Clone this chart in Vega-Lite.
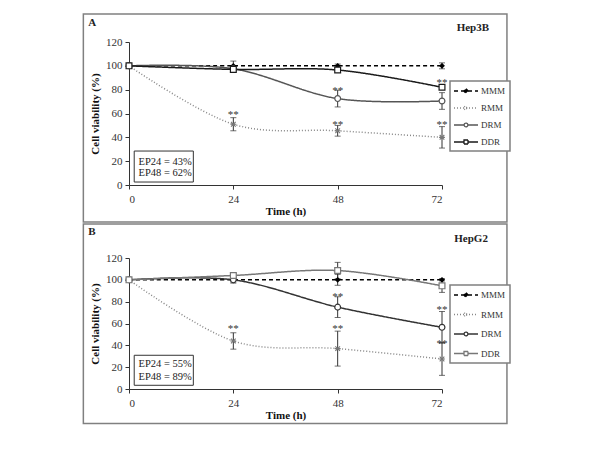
{
  "$schema": "https://vega.github.io/schema/vega-lite/v6.json",
  "background": "white",
  "padding": {"left": 82, "top": 13, "right": 4, "bottom": 4},
  "spacing": 0,
  "datasets": {
    "pts": [
      {"p":"A","s":"MMM","t":0,"v":100,"e":0},
      {"p":"A","s":"MMM","t":24,"v":100,"e":4},
      {"p":"A","s":"MMM","t":48,"v":100,"e":1.5},
      {"p":"A","s":"MMM","t":72,"v":100,"e":2.5},
      {"p":"A","s":"RMM","t":0,"v":100,"e":0},
      {"p":"A","s":"RMM","t":24,"v":51,"e":5.5},
      {"p":"A","s":"RMM","t":48,"v":45.5,"e":4.5},
      {"p":"A","s":"RMM","t":72,"v":40,"e":9},
      {"p":"A","s":"DRM","t":0,"v":100,"e":0},
      {"p":"A","s":"DRM","t":24,"v":97.5,"e":0},
      {"p":"A","s":"DRM","t":48,"v":72.5,"e":7},
      {"p":"A","s":"DRM","t":72,"v":70.5,"e":7},
      {"p":"A","s":"DDR","t":0,"v":100,"e":0},
      {"p":"A","s":"DDR","t":24,"v":97,"e":1},
      {"p":"A","s":"DDR","t":48,"v":96.5,"e":0},
      {"p":"A","s":"DDR","t":72,"v":82,"e":0},
      {"p":"B","s":"MMM","t":0,"v":100,"e":0},
      {"p":"B","s":"MMM","t":24,"v":100,"e":2},
      {"p":"B","s":"MMM","t":48,"v":100,"e":5},
      {"p":"B","s":"MMM","t":72,"v":100,"e":1},
      {"p":"B","s":"RMM","t":0,"v":100,"e":0},
      {"p":"B","s":"RMM","t":24,"v":44,"e":7.5},
      {"p":"B","s":"RMM","t":48,"v":37,"e":16},
      {"p":"B","s":"RMM","t":72,"v":27.5,"e":15},
      {"p":"B","s":"DRM","t":0,"v":100,"e":0},
      {"p":"B","s":"DRM","t":24,"v":100,"e":3},
      {"p":"B","s":"DRM","t":48,"v":75,"e":9.5},
      {"p":"B","s":"DRM","t":72,"v":56.5,"e":14.5},
      {"p":"B","s":"DDR","t":0,"v":100,"e":0},
      {"p":"B","s":"DDR","t":24,"v":104,"e":2},
      {"p":"B","s":"DDR","t":48,"v":108.5,"e":7.5},
      {"p":"B","s":"DDR","t":72,"v":94.5,"e":6}
    ],
    "boxes": [
      {"p":"A","t":-10.5,"t2":86.94,"v":-31.05,"v2":143.5},
      {"p":"B","t":-10.5,"t2":86.94,"v":-31.5,"v2":151.2}
    ],
    "ep": [
      {"p":"A","t":1.2,"t2":14.8,"v":2.5,"v2":28.5},
      {"p":"B","t":1.2,"t2":14.8,"v":3.4,"v2":30.9}
    ],
    "eptext": [
      {"p":"A","t":2.2,"v":19.5,"k":"EP24 = 43%"},
      {"p":"A","t":2.2,"v":9.8,"k":"EP48 = 62%"},
      {"p":"B","t":2.2,"v":23,"k":"EP24 = 55%"},
      {"p":"B","t":2.2,"v":10.7,"k":"EP48 = 89%"}
    ],
    "stars": [
      {"p":"A","t":24,"v":62,"k":"**"},
      {"p":"A","t":48,"v":82,"k":"**"},
      {"p":"A","t":48,"v":54,"k":"**"},
      {"p":"A","t":72,"v":89,"k":"**"},
      {"p":"A","t":72,"v":54,"k":"**"},
      {"p":"B","t":24,"v":58.5,"k":"**"},
      {"p":"B","t":48,"v":88,"k":"**"},
      {"p":"B","t":48,"v":58.5,"k":"**"},
      {"p":"B","t":72,"v":76,"k":"**"},
      {"p":"B","t":72,"v":45,"k":"**"}
    ],
    "heads": [
      {"p":"A","role":"letter","t":-9.35,"v":136,"k":"A"},
      {"p":"A","role":"cell","t":79.1,"v":131.7,"k":"Hep3B"},
      {"p":"B","role":"letter","t":-9.35,"v":143.9,"k":"B"},
      {"p":"B","role":"cell","t":78.7,"v":137.7,"k":"HepG2"}
    ]
  },
  "vconcat": [
    {
      "width": 313,
      "height": 143,
      "encoding": {
        "x": {"field":"t","type":"quantitative","scale":{"domain":[0,72],"nice":false,"zero":false},"title":"Time (h)","axis":{"values":[0,24,48,72]}},
        "y": {"field":"v","type":"quantitative","scale":{"domain":[0,120],"nice":false},"title":"Cell viability (%)","axis":{"values":[0,20,40,60,80,100,120]}}
      },
      "layer": [
        {"data":{"name":"boxes"},"transform":[{"filter":"datum.p=='A'"}],
         "mark":{"type":"rect","filled":false,"stroke":"#808080","strokeWidth":1.5},
         "encoding":{"x2":{"field":"t2"},"y2":{"field":"v2"}}},
        {"data":{"name":"ep"},"transform":[{"filter":"datum.p=='A'"}],
         "mark":{"type":"rect","filled":false,"stroke":"#333","strokeWidth":1},
         "encoding":{"x2":{"field":"t2"},"y2":{"field":"v2"}}},
        {"data":{"name":"eptext"},"transform":[{"filter":"datum.p=='A'"}],
         "mark":{"type":"text","align":"left","baseline":"middle","font":"Liberation Serif","fontSize":10.5,"color":"#222"},
         "encoding":{"text":{"field":"k"}}},
        {"data":{"name":"heads"},"transform":[{"filter":"datum.p=='A' && datum.role=='letter'"}],
         "mark":{"type":"text","align":"left","baseline":"middle","font":"Liberation Serif","fontSize":11,"fontWeight":"bold","color":"#222"},
         "encoding":{"text":{"field":"k"}}},
        {"data":{"name":"heads"},"transform":[{"filter":"datum.p=='A' && datum.role=='cell'"}],
         "mark":{"type":"text","align":"center","baseline":"middle","font":"Liberation Serif","fontSize":11,"fontWeight":"bold","color":"#222"},
         "encoding":{"text":{"field":"k"}}},
        {"data":{"name":"stars"},"transform":[{"filter":"datum.p=='A'"}],
         "mark":{"type":"text","align":"center","baseline":"middle","dy":4,"font":"Liberation Serif","fontSize":11,"color":"#333"},
         "encoding":{"text":{"field":"k"}}},
        {"data":{"name":"pts"},"transform":[{"filter":"datum.p=='A' && datum.e>0"}],
         "mark":{"type":"errorbar","ticks":{"size":6,"color":"#333"},"rule":{"color":"#333","strokeWidth":1}},
         "encoding":{"yError":{"field":"e"}}},
        {"data":{"name":"pts"},"transform":[{"filter":"datum.p=='A'"}],
         "mark":{"type":"line","interpolate":"cardinal","strokeWidth":1.5},
         "encoding":{
           "color":{"field":"s","type":"nominal","scale":{"domain":["MMM","RMM","DRM","DDR"],"range":["#000000","#888888","#555555","#1a1a1a"]},
             "legend":{"title":null,"orient":"none","legendX":321,"legendY":39,"padding":4,"strokeColor":"#808080","fillColor":"white","labelFont":"Liberation Serif","labelFontSize":9,"labelColor":"#333","symbolSize":100,"symbolStrokeWidth":1.3,"symbolOffset":6,"rowPadding":6,"labelOffset":9,
               "encode":{"legend":{"update":{"strokeWidth":{"value":1.5}}},"symbols":{"update":{
                 "shape":{"signal":"datum.value=='MMM'?'M-2.4,0H2.4M0,-0.45L0.45,0L0,0.45L-0.45,0Z':datum.value=='RMM'?'M-2.4,0H2.4M-0.35,-0.35L0.35,0.35M-0.35,0.35L0.35,-0.35':datum.value=='DRM'?'M-2.4,0H-0.38M0.38,0H2.4M0.38,0A0.38,0.38 0 1,1 -0.38,0A0.38,0.38 0 1,1 0.38,0Z':'M-2.4,0H-0.4M0.4,0H2.4M-0.4,-0.4H0.4V0.4H-0.4Z'"},
                 "fill":{"signal":"datum.value=='MMM'?'#000':datum.value=='RMM'?'transparent':'#fff'"}}}}}},
           "strokeDash":{"field":"s","type":"nominal","scale":{"domain":["MMM","RMM","DRM","DDR"],"range":[[4,3],[1,2],[1,0],[1,0]]}}
         }},
        {"data":{"name":"pts"},"transform":[{"filter":"datum.p=='A' && datum.s=='MMM'"}],
         "mark":{"type":"point","shape":"diamond","filled":true,"size":34,"color":"#000000","opacity":1}},
        {"data":{"name":"pts"},"transform":[{"filter":"datum.p=='A' && datum.s=='RMM'"}],
         "mark":{"type":"point","shape":"M-0.8,-0.8L0.8,0.8M-0.8,0.8L0.8,-0.8M-1,0H1","filled":false,"size":34,"stroke":"#777777","strokeWidth":1.1,"opacity":1}},
        {"data":{"name":"pts"},"transform":[{"filter":"datum.p=='A' && datum.s=='DRM'"}],
         "mark":{"type":"point","shape":"circle","filled":true,"size":34,"fill":"#ffffff","stroke":"#555555","strokeWidth":1.2,"opacity":1}},
        {"data":{"name":"pts"},"transform":[{"filter":"datum.p=='A' && datum.s=='DDR'"}],
         "mark":{"type":"point","shape":"square","filled":true,"size":34,"fill":"#ffffff","stroke":"#1a1a1a","strokeWidth":1.2,"opacity":1}}
      ]
    },
    {
      "width": 313,
      "height": 131,
      "encoding": {
        "x": {"field":"t","type":"quantitative","scale":{"domain":[0,72],"nice":false,"zero":false},"title":"Time (h)","axis":{"values":[0,24,48,72]}},
        "y": {"field":"v","type":"quantitative","scale":{"domain":[0,120],"nice":false},"title":"Cell viability (%)","axis":{"values":[0,20,40,60,80,100,120]}}
      },
      "layer": [
        {"data":{"name":"boxes"},"transform":[{"filter":"datum.p=='B'"}],
         "mark":{"type":"rect","filled":false,"stroke":"#808080","strokeWidth":1.5},
         "encoding":{"x2":{"field":"t2"},"y2":{"field":"v2"}}},
        {"data":{"name":"ep"},"transform":[{"filter":"datum.p=='B'"}],
         "mark":{"type":"rect","filled":false,"stroke":"#333","strokeWidth":1},
         "encoding":{"x2":{"field":"t2"},"y2":{"field":"v2"}}},
        {"data":{"name":"eptext"},"transform":[{"filter":"datum.p=='B'"}],
         "mark":{"type":"text","align":"left","baseline":"middle","font":"Liberation Serif","fontSize":10.5,"color":"#222"},
         "encoding":{"text":{"field":"k"}}},
        {"data":{"name":"heads"},"transform":[{"filter":"datum.p=='B' && datum.role=='letter'"}],
         "mark":{"type":"text","align":"left","baseline":"middle","font":"Liberation Serif","fontSize":11,"fontWeight":"bold","color":"#222"},
         "encoding":{"text":{"field":"k"}}},
        {"data":{"name":"heads"},"transform":[{"filter":"datum.p=='B' && datum.role=='cell'"}],
         "mark":{"type":"text","align":"center","baseline":"middle","font":"Liberation Serif","fontSize":11,"fontWeight":"bold","color":"#222"},
         "encoding":{"text":{"field":"k"}}},
        {"data":{"name":"stars"},"transform":[{"filter":"datum.p=='B'"}],
         "mark":{"type":"text","align":"center","baseline":"middle","dy":4,"font":"Liberation Serif","fontSize":11,"color":"#333"},
         "encoding":{"text":{"field":"k"}}},
        {"data":{"name":"pts"},"transform":[{"filter":"datum.p=='B' && datum.e>0"}],
         "mark":{"type":"errorbar","ticks":{"size":6,"color":"#333"},"rule":{"color":"#333","strokeWidth":1}},
         "encoding":{"yError":{"field":"e"}}},
        {"data":{"name":"pts"},"transform":[{"filter":"datum.p=='B'"}],
         "mark":{"type":"line","interpolate":"cardinal","strokeWidth":1.5},
         "encoding":{
           "color":{"field":"s","type":"nominal","scale":{"domain":["MMM","RMM","DRM","DDR"],"range":["#000000","#888888","#333333","#777777"]},
             "legend":{"title":null,"orient":"none","legendX":321,"legendY":27,"padding":4,"strokeColor":"#808080","fillColor":"white","labelFont":"Liberation Serif","labelFontSize":9,"labelColor":"#333","symbolSize":100,"symbolStrokeWidth":1.3,"symbolOffset":6,"rowPadding":8.5,"labelOffset":9,
               "encode":{"legend":{"update":{"strokeWidth":{"value":1.5}}},"symbols":{"update":{
                 "shape":{"signal":"datum.value=='MMM'?'M-2.4,0H2.4M0,-0.45L0.45,0L0,0.45L-0.45,0Z':datum.value=='RMM'?'M-2.4,0H2.4M-0.35,-0.35L0.35,0.35M-0.35,0.35L0.35,-0.35':datum.value=='DRM'?'M-2.4,0H-0.38M0.38,0H2.4M0.38,0A0.38,0.38 0 1,1 -0.38,0A0.38,0.38 0 1,1 0.38,0Z':'M-2.4,0H-0.4M0.4,0H2.4M-0.4,-0.4H0.4V0.4H-0.4Z'"},
                 "fill":{"signal":"datum.value=='MMM'?'#000':datum.value=='RMM'?'transparent':'#fff'"}}}}}},
           "strokeDash":{"field":"s","type":"nominal","scale":{"domain":["MMM","RMM","DRM","DDR"],"range":[[4,3],[1,2],[1,0],[1,0]]}}
         }},
        {"data":{"name":"pts"},"transform":[{"filter":"datum.p=='B' && datum.s=='MMM'"}],
         "mark":{"type":"point","shape":"diamond","filled":true,"size":34,"color":"#000000","opacity":1}},
        {"data":{"name":"pts"},"transform":[{"filter":"datum.p=='B' && datum.s=='RMM'"}],
         "mark":{"type":"point","shape":"M-0.8,-0.8L0.8,0.8M-0.8,0.8L0.8,-0.8M-1,0H1","filled":false,"size":34,"stroke":"#777777","strokeWidth":1.1,"opacity":1}},
        {"data":{"name":"pts"},"transform":[{"filter":"datum.p=='B' && datum.s=='DRM'"}],
         "mark":{"type":"point","shape":"circle","filled":true,"size":34,"fill":"#ffffff","stroke":"#333333","strokeWidth":1.2,"opacity":1}},
        {"data":{"name":"pts"},"transform":[{"filter":"datum.p=='B' && datum.s=='DDR'"}],
         "mark":{"type":"point","shape":"square","filled":true,"size":34,"fill":"#ffffff","stroke":"#777777","strokeWidth":1.2,"opacity":1}}
      ]
    }
  ],
  "resolve": {"scale": {"color":"independent","strokeDash":"independent"}, "legend": {"color":"independent","strokeDash":"independent"}},
  "config": {
    "view": {"stroke": null},
    "axis": {"zindex": 1, "grid": false, "domainColor": "#333", "tickColor": "#333", "tickSize": 4, "labelFont": "Liberation Serif", "labelFontSize": 11, "labelColor": "#333", "titleFont": "Liberation Serif", "titleFontSize": 11, "titleFontWeight": "bold", "titleColor": "#111"},
    "axisX": {"labelPadding": 4, "titlePadding": 1},
    "axisY": {"labelPadding": 3, "titlePadding": 5}
  }
}
